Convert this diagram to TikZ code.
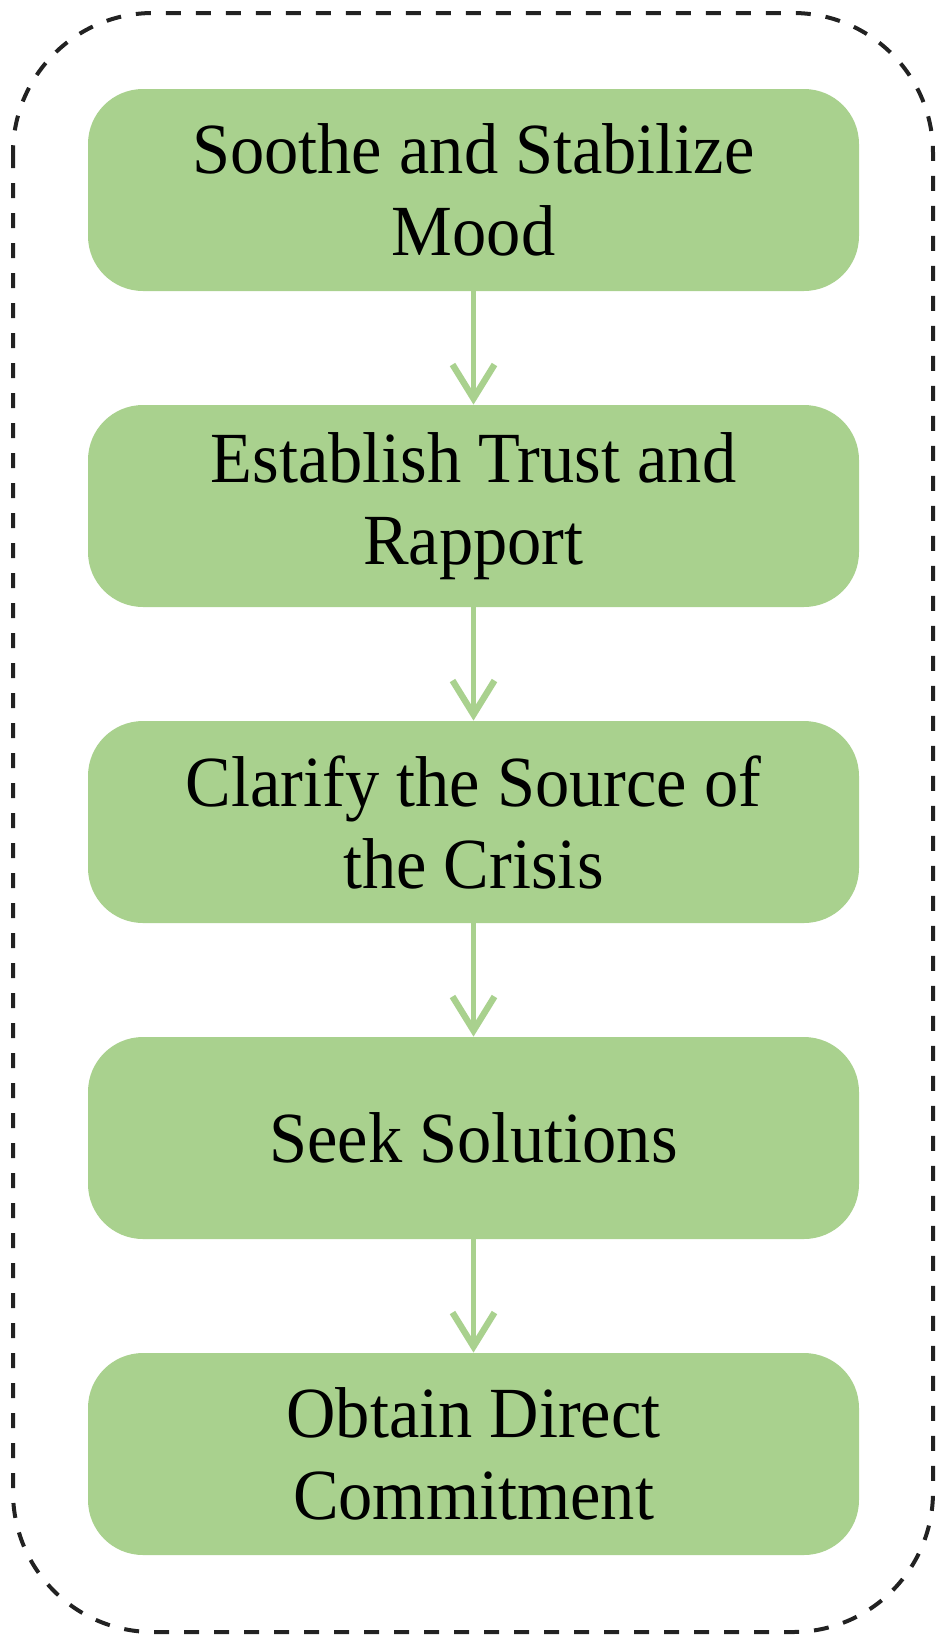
\documentclass[tikz,border=0pt]{standalone}
\usepackage{fontspec}
\setmainfont{Liberation Serif}[FakeStretch=0.95]
\usetikzlibrary{arrows.meta}
\definecolor{boxgreen}{HTML}{A9D18E}
\definecolor{framegray}{HTML}{222222}
\tikzset{
  stepbox/.style={fill=boxgreen, draw=none, rounded corners=27.5pt,
    minimum width=385.5pt, minimum height=101pt, align=center,
    font=\fontsize{36pt}{41pt}\selectfont, text=black, inner sep=0pt},
  flowarrow/.style={draw=boxgreen, line width=2.5pt,
    -{Straight Barb[length=17pt,width=21pt,line width=3.2pt]}, shorten >=0pt},
  outerframe/.style={draw=framegray, line width=2pt, dash pattern=on 7.5pt off 7.5pt,
    rounded corners=70pt}
}
\begin{document}
\begin{tikzpicture}[x=0.5pt,y=-0.5pt]
\useasboundingbox (0,0) rectangle (945,1639);
\draw[outerframe] (13,13) rectangle (933,1632);
\node[stepbox] (s1) at (473.5,190) {Soothe and Stabilize\\Mood};
\node[stepbox] (s2) at (473.5,506) {Establish Trust and\\Rapport};
\node[stepbox] (s3) at (473.5,822) {Clarify the Source of\\the Crisis};
\node[stepbox] (s4) at (473.5,1138) {Seek Solutions};
\node[stepbox] (s5) at (473.5,1454) {Obtain Direct\\Commitment};
\draw[flowarrow] (s1) -- (s2);
\draw[flowarrow] (s2) -- (s3);
\draw[flowarrow] (s3) -- (s4);
\draw[flowarrow] (s4) -- (s5);
\end{tikzpicture}
\end{document}
